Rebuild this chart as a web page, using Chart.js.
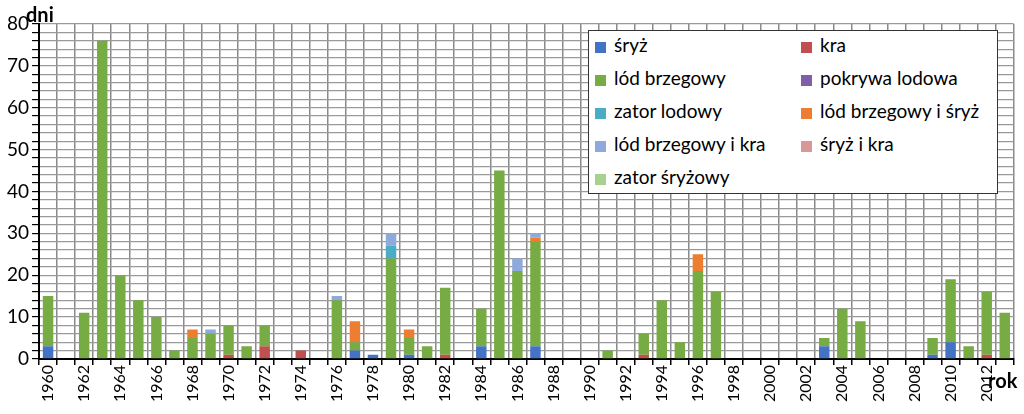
<!DOCTYPE html>
<html><head><meta charset="utf-8">
<script src="https://cdn.jsdelivr.net/npm/chart.js@4"></script>
<style>
body{margin:0;background:#fff;font-family:Lato,sans-serif}
#wrap{position:relative;width:1024px;height:414px}
#legend{position:absolute;left:588px;top:30px;width:410px;height:164px;border:1px solid #333;background:#fff;font-size:19px;box-sizing:border-box;padding:4px 0 0 6px}
#legend div{position:absolute;white-space:nowrap}
#legend span{display:inline-block;width:11px;height:11px;margin-right:8px;vertical-align:middle}
.lbl{position:absolute;font-weight:bold;font-size:20px}
</style></head><body>
<div id="wrap">
<canvas id="c" width="1024" height="414"></canvas>
<div class="lbl" style="left:26px;top:2px">dni</div>
<div class="lbl" style="left:988px;top:368px">rok</div>
<div id="legend"></div>
</div>
<script>
// lata 1960-2013
const years = [];
for (let y = 1960; y <= 2013; y++) years.push(String(y));

const sryz       = [3,0,0,0,0,0,0,0,0,0,0,0,0,0,0,0,0,2,1,0,1,0,0,0,3,0,0,3,0,0,0,0,0,0,0,0,0,0,0,0,0,0,0,3,0,0,0,0,0,1,4,0,0,0];
const kra        = [0,0,0,0,0,0,0,0,0,0,1,0,3,0,2,0,0,0,0,0,0,0,1,0,0,0,0,0,0,0,0,0,0,1,0,0,0,0,0,0,0,0,0,0,0,0,0,0,0,0,0,0,1,0];
const lodBrzeg   = [12,0,11,76,20,14,10,2,5,6,7,3,5,0,0,0,14,2,0,24,4,3,16,0,9,45,21,25,0,0,0,2,0,5,14,4,21,16,0,0,0,0,0,2,12,9,0,0,0,4,15,3,15,11];
const pokrywa    = new Array(54).fill(0);
const zator      = [0,0,0,0,0,0,0,0,0,0,0,0,0,0,0,0,0,0,0,3,0,0,0,0,0,0,0,0,0,0,0,0,0,0,0,0,0,0,0,0,0,0,0,0,0,0,0,0,0,0,0,0,0,0];
const lodSryz    = [0,0,0,0,0,0,0,0,2,0,0,0,0,0,0,0,0,5,0,0,2,0,0,0,0,0,0,1,0,0,0,0,0,0,0,0,4,0,0,0,0,0,0,0,0,0,0,0,0,0,0,0,0,0];
const lodKra     = [0,0,0,0,0,0,0,0,0,1,0,0,0,0,0,0,1,0,0,3,0,0,0,0,0,0,3,1,0,0,0,0,0,0,0,0,0,0,0,0,0,0,0,0,0,0,0,0,0,0,0,0,0,0];
const sryzKra    = new Array(54).fill(0);
const zatorSryz  = new Array(54).fill(0);

const series = [
  ['śryż', sryz, '#4472C4'],
  ['kra', kra, '#C0504D'],
  ['lód brzegowy', lodBrzeg, '#77AB43'],
  ['pokrywa lodowa', pokrywa, '#7F60A8'],
  ['zator lodowy', zator, '#4BACC6'],
  ['lód brzegowy i śryż', lodSryz, '#ED7D31'],
  ['lód brzegowy i kra', lodKra, '#8EA9DB'],
  ['śryż i kra', sryzKra, '#D99795'],
  ['zator śryżowy', zatorSryz, '#A9D18E']
];

const leg = document.getElementById('legend');
series.forEach((s, i) => {
  const d = document.createElement('div');
  d.style.left = (i % 2 ? 212 : 6) + 'px';
  d.style.top = (2 + Math.floor(i / 2) * 33) + 'px';
  d.innerHTML = '<span style="background:' + s[2] + '"></span>' + s[0];
  leg.appendChild(d);
});

new Chart(document.getElementById('c'), {
  type: 'bar',
  data: {
    labels: years,
    datasets: series.map(s => ({label: s[0], data: s[1], backgroundColor: s[2],
      barPercentage: 0.58, categoryPercentage: 1}))
  },
  options: {
    responsive: false, animation: false,
    layout: {padding: {top: 24, right: 4, bottom: 12, left: 4}},
    plugins: {legend: {display: false}, tooltip: {enabled: false}},
    scales: {
      x: {stacked: true,
        grid: {color: '#8a8a8a', lineWidth: 1.5, tickLength: 6, tickColor: '#000'},
        border: {color: '#000', width: 2},
        ticks: {autoSkip: false, maxRotation: 90, minRotation: 90, color: '#000', padding: 0,
          font: {family: 'Lato', size: 16},
          callback: (v, i) => i % 2 ? '' : years[i]}},
      y: {stacked: true, min: 0, max: 80,
        grid: {color: '#9a9a9a', lineWidth: 1.2, tickLength: 7, tickColor: '#000'},
        border: {color: '#000', width: 2},
        ticks: {stepSize: 2, autoSkip: false, color: '#000', font: {family: 'Lato', size: 19},
          callback: v => v % 10 ? '' : v}}
    }
  }
});
</script>
</body></html>
